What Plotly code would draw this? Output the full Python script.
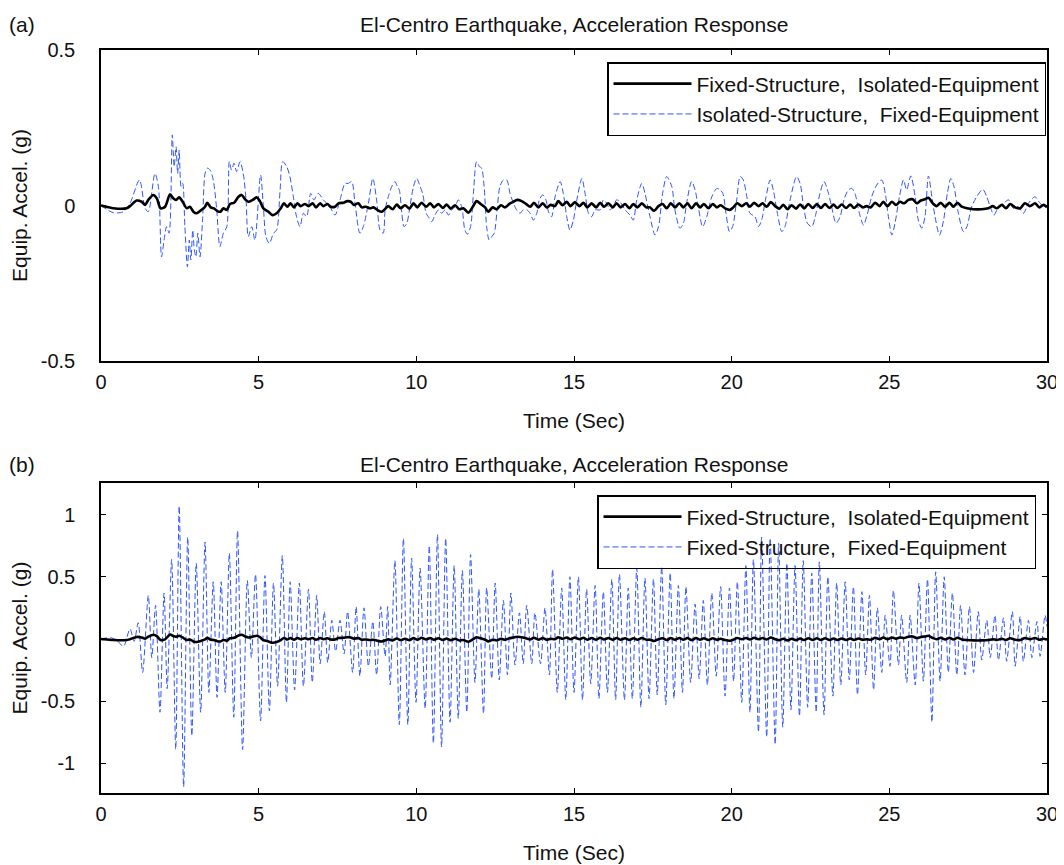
import plotly.graph_objects as go

# ---------------- data ----------------
# Fixed-Structure, Isolated-Equipment (same series in both panels)
black_t = [0.00, 0.07, 0.39, 0.81, 0.92, 1.13, 1.29, 1.40, 1.50, 1.66, 1.77, 1.89, 2.03, 2.19, 2.29, 2.38,
           2.48, 2.59, 2.72, 2.82, 2.93, 3.03, 3.19, 3.30, 3.37, 3.48, 3.58, 3.69, 3.79, 3.88, 3.99, 4.09,
           4.22, 4.36, 4.46, 4.57, 4.67, 4.81, 4.94, 5.04, 5.15, 5.31, 5.44, 5.57, 5.70, 5.80, 5.91, 6.01,
           6.12, 6.23, 6.33, 6.47, 6.58, 6.71, 6.82, 6.95, 7.05, 7.18, 7.28, 7.42, 7.53, 7.69, 7.81, 7.92,
           8.02, 8.16, 8.27, 8.40, 8.53, 8.64, 8.76, 8.90, 9.06, 9.11, 9.25, 9.38, 9.50, 9.64, 9.78, 9.91,
           10.03, 10.17, 10.31, 10.44, 10.56, 10.70, 10.84, 10.96, 11.09, 11.23, 11.36, 11.49, 11.65, 11.79,
           11.91, 12.04, 12.18, 12.28, 12.42, 12.55, 12.68, 12.81, 12.95, 13.08, 13.20, 13.34, 13.48, 13.61,
           13.73, 13.87, 14.01, 14.13, 14.26, 14.40, 14.50, 14.64, 14.77, 14.89, 15.03, 15.17, 15.30, 15.42,
           15.56, 15.70, 15.83, 15.95, 16.09, 16.23, 16.35, 16.48, 16.62, 16.76, 16.88, 17.01, 17.15, 17.29,
           17.41, 17.54, 17.68, 17.81, 17.94, 18.07, 18.20, 18.34, 18.47, 18.60, 18.73, 18.87, 19.00, 19.12,
           19.26, 19.40, 19.53, 19.65, 19.79, 19.95, 20.05, 20.18, 20.32, 20.46, 20.58, 20.71, 20.85, 20.98,
           21.11, 21.24, 21.38, 21.51, 21.64, 21.77, 21.90, 22.04, 22.17, 22.30, 22.43, 22.57, 22.70, 22.83,
           22.96, 23.10, 23.23, 23.35, 23.49, 23.63, 23.76, 23.88, 24.02, 24.16, 24.28, 24.41, 24.55, 24.69,
           24.81, 24.94, 25.08, 25.21, 25.34, 25.47, 25.60, 25.74, 25.87, 26.00, 26.13, 26.24, 26.38, 26.50,
           26.63, 26.77, 26.91, 27.03, 27.16, 27.30, 27.46, 27.67, 27.93, 28.14, 28.28, 28.41, 28.57, 28.70,
           28.83, 28.99, 29.15, 29.30, 29.46, 29.62, 29.76, 29.89, 30.00]
black_v = [0.000, -0.002, -0.009, -0.009, -0.002, 0.016, 0.012, 0.002, 0.018, 0.034, 0.023, -0.009, -0.004, 0.036, 0.023, 0.018,
           0.026, 0.012, -0.009, -0.004, -0.020, -0.025, -0.014, -0.004, 0.009, -0.006, -0.009, -0.018, -0.020, -0.009, -0.014, 0.005,
           0.009, 0.028, 0.034, 0.020, 0.012, 0.018, 0.026, 0.014, -0.009, -0.020, -0.031, -0.025, -0.009, 0.007, -0.004, 0.007,
           -0.006, 0.007, -0.002, 0.005, -0.002, 0.007, -0.006, 0.007, -0.002, 0.005, -0.004, -0.004, 0.007, 0.009, 0.014, 0.012,
           0.002, 0.007, -0.006, -0.004, -0.009, -0.006, -0.014, -0.020, -0.006, -0.002, -0.012, 0.003, -0.009, 0.001, -0.010, 0.007,
           -0.006, 0.009, -0.004, 0.007, -0.006, 0.005, -0.008, 0.003, -0.010, 0.001, -0.012, -0.009, -0.023, -0.004,
           0.014, 0.005, -0.006, -0.020, -0.006, -0.012, 0.001, -0.006, 0.005, 0.012, 0.018, 0.014, 0.005, -0.004,
           0.009, -0.006, 0.007, -0.006, 0.002, -0.002, 0.014, 0.001, 0.012, -0.002, 0.011, -0.002, 0.009, -0.006,
           0.007, -0.006, 0.009, -0.004, 0.007, -0.006, 0.007, -0.006, 0.005, -0.009, 0.005, -0.006, 0.007, -0.006,
           -0.006, -0.017, -0.002, 0.005, -0.009, 0.007, -0.006, 0.007, -0.006, 0.007, -0.009, 0.007, -0.006, 0.005,
           -0.009, 0.005, -0.006, 0.001, -0.009, -0.014, -0.006, 0.007, -0.002, 0.007, -0.004, 0.009, -0.002, 0.007,
           -0.004, 0.011, -0.002, -0.010, 0.002, -0.012, 0.001, -0.010, 0.003, -0.009, 0.005, -0.008, 0.005, -0.008,
           0.005, -0.008, 0.003, -0.008, 0.003, -0.008, 0.003, -0.008, 0.003, -0.006, -0.002, -0.006, 0.009, -0.002,
           0.012, -0.002, 0.012, 0.002, 0.012, 0.007, 0.018, 0.020, 0.007, 0.016, 0.020, 0.025, 0.007, -0.002,
           0.009, -0.004, 0.009, -0.004, 0.009, -0.004, -0.009, -0.012, -0.012, -0.009, -0.002, -0.009, 0.002, -0.009,
           0.005, -0.006, -0.009, 0.007, -0.002, 0.007, -0.006, 0.002, -0.006]

# Isolated-Structure, Fixed-Equipment (panel a)
blueA_t = [0.00, 0.39, 0.71, 0.92, 1.22, 1.40, 1.50, 1.71, 1.82, 1.92, 2.00, 2.08, 2.16, 2.26, 2.32, 2.38,
           2.43, 2.48, 2.54, 2.59, 2.66, 2.74, 2.80, 2.85, 2.91, 2.96, 3.01, 3.07, 3.14, 3.22, 3.30, 3.37,
           3.46, 3.56, 3.67, 3.77, 3.88, 3.99, 4.07, 4.14, 4.22, 4.30, 4.41, 4.51, 4.60, 4.67, 4.78, 4.88,
           5.06, 5.15, 5.23, 5.34, 5.47, 5.57, 5.68, 5.76, 5.89, 5.99, 6.10, 6.20, 6.31, 6.42, 6.52, 6.65,
           6.75, 6.89, 7.05, 7.26, 7.42, 7.58, 7.74, 7.84, 7.95, 8.05, 8.21, 8.32, 8.48, 8.62, 8.74, 8.85,
           8.95, 9.01, 9.11, 9.22, 9.32, 9.40, 9.46, 9.54, 9.61, 9.70, 9.78, 9.91, 10.01, 10.12, 10.20, 10.31,
           10.38, 10.49, 10.59, 10.70, 10.80, 10.91, 11.02, 11.12, 11.23, 11.33, 11.44, 11.54, 11.62, 11.72,
           11.81, 11.91, 12.00, 12.07, 12.15, 12.23, 12.31, 12.39, 12.47, 12.57, 12.65, 12.76, 12.87, 12.97,
           13.08, 13.18, 13.29, 13.39, 13.50, 13.61, 13.71, 13.82, 13.90, 14.01, 14.11, 14.19, 14.29, 14.40,
           14.56, 14.66, 14.77, 14.87, 14.98, 15.09, 15.25, 15.35, 15.46, 15.56, 15.67, 15.83, 15.93, 16.04,
           16.14, 16.25, 16.35, 16.46, 16.62, 16.78, 16.88, 16.99, 17.15, 17.25, 17.41, 17.57, 17.68, 17.81,
           17.94, 18.10, 18.20, 18.36, 18.47, 18.57, 18.73, 18.84, 18.94, 19.08, 19.21, 19.37, 19.53, 19.63,
           19.72, 19.82, 19.93, 20.03, 20.16, 20.27, 20.37, 20.48, 20.58, 20.74, 20.85, 20.95, 21.09, 21.22,
           21.32, 21.45, 21.59, 21.69, 21.83, 22.06, 22.17, 22.28, 22.40, 22.54, 22.65, 22.80, 22.93, 23.07,
           23.17, 23.31, 23.44, 23.56, 23.70, 23.81, 23.91, 24.05, 24.18, 24.28, 24.44, 24.60, 24.76, 24.87,
           24.97, 25.08, 25.18, 25.32, 25.45, 25.55, 25.68, 25.82, 25.92, 26.03, 26.13, 26.24, 26.35, 26.45,
           26.59, 26.72, 26.84, 26.95, 27.05, 27.19, 27.35, 27.46, 27.61, 27.77, 27.96, 28.09, 28.20, 28.32,
           28.46, 28.62, 28.78, 28.93, 29.09, 29.25, 29.41, 29.62, 29.78, 29.94, 30.00]
blueA_v = [0.000, -0.023, -0.020, 0.007, 0.082, -0.009, -0.020, 0.103, 0.061, -0.165, -0.111, -0.068, -0.089, 0.227, 0.125, 0.189,
           0.103, 0.178, 0.061, 0.071, -0.068, -0.197, -0.111, -0.175, -0.079, -0.143, -0.165, -0.089, -0.165, -0.047, 0.103, 0.120,
           0.114, 0.082, -0.014, -0.132, -0.089, -0.068, 0.141, 0.114, 0.136, 0.109, 0.141, 0.103, 0.018, -0.100, -0.068, -0.111,
           0.098, -0.004, -0.100, -0.122, -0.089, -0.079, 0.050, 0.141, 0.125, 0.093, 0.028, -0.036, -0.068, -0.025, -0.036, 0.039,
           0.018, 0.039, 0.018, -0.004, -0.031, 0.018, 0.071, 0.071, 0.077, 0.012, -0.089, -0.068, 0.007, 0.087, 0.018, -0.079,
           -0.089, -0.014, 0.028, 0.061, 0.077, 0.061, 0.050, -0.025, -0.068, -0.057, -0.014, 0.061, 0.087, 0.061, 0.039, -0.025,
           -0.036, -0.052, -0.031, -0.014, -0.025, -0.014, -0.031, -0.014, -0.004, 0.018, -0.004, -0.079, -0.092, -0.068,
           0.039, 0.141, 0.125, 0.120, 0.061, -0.068, -0.111, -0.100, -0.089, -0.004, 0.061, 0.082, 0.082, 0.039,
           0.007, -0.014, -0.025, -0.014, -0.014, -0.025, -0.047, -0.025, 0.018, 0.034, 0.018, -0.020, -0.036, 0.028,
           0.077, 0.039, -0.036, -0.079, -0.047, 0.018, 0.087, 0.039, -0.025, -0.036, -0.014, -0.014, 0.018, 0.007,
           -0.014, -0.004, 0.018, 0.012, -0.014, -0.031, -0.047, 0.018, 0.071, 0.039, -0.036, -0.095, -0.068, 0.039,
           0.093, 0.061, -0.014, -0.073, -0.057, 0.007, 0.077, 0.050, -0.004, -0.068, -0.036, 0.028, 0.055, 0.050,
           0.039, -0.025, -0.084, -0.068, 0.018, 0.093, 0.082, 0.028, -0.025, -0.036, -0.068, -0.047, 0.028, 0.082,
           0.050, -0.025, -0.084, -0.068, 0.007, 0.093, 0.071, -0.004, -0.057, -0.068, -0.036, 0.039, 0.077, 0.039,
           -0.004, -0.057, -0.036, 0.018, 0.050, 0.055, 0.039, -0.025, -0.063, -0.036, 0.028, 0.066, 0.082, 0.039,
           -0.036, -0.095, -0.057, 0.028, 0.082, 0.050, 0.095, 0.028, -0.047, -0.073, -0.036, 0.095, 0.028, -0.036,
           -0.095, -0.047, 0.039, 0.087, 0.061, -0.025, -0.084, -0.068, -0.004, 0.028, 0.052, 0.028, -0.004, -0.031,
           -0.004, 0.007, 0.018, -0.009, -0.004, -0.025, 0.007, 0.028, 0.007, -0.004, 0.000]

# Fixed-Structure, Fixed-Equipment (panel b)
blueB_t = [0.00, 0.30, 0.50, 0.71, 0.92, 1.05, 1.18, 1.32, 1.50, 1.61, 1.73, 1.87, 2.00, 2.10, 2.24, 2.37,
           2.48, 2.62, 2.75, 2.88, 3.02, 3.16, 3.30, 3.42, 3.56, 3.68, 3.81, 3.94, 4.07, 4.21, 4.33, 4.49,
           4.64, 4.77, 4.90, 5.06, 5.20, 5.34, 5.47, 5.60, 5.75, 5.88, 6.00, 6.14, 6.29, 6.42, 6.58, 6.70,
           6.84, 6.95, 7.08, 7.19, 7.32, 7.44, 7.58, 7.71, 7.82, 7.98, 8.09, 8.21, 8.34, 8.48, 8.62, 8.74,
           8.87, 9.01, 9.09, 9.17, 9.32, 9.46, 9.59, 9.73, 9.85, 9.99, 10.12, 10.28, 10.41, 10.54, 10.67, 10.80,
           10.93, 11.07, 11.20, 11.33, 11.46, 11.60, 11.72, 11.86, 11.98, 12.13, 12.23, 12.39, 12.50, 12.63,
           12.76, 12.89, 13.00, 13.13, 13.27, 13.39, 13.50, 13.66, 13.76, 13.94, 14.08, 14.22, 14.32, 14.47,
           14.61, 14.74, 14.87, 15.00, 15.14, 15.27, 15.40, 15.53, 15.67, 15.79, 15.93, 16.06, 16.20, 16.32,
           16.44, 16.60, 16.72, 16.85, 16.99, 17.12, 17.25, 17.38, 17.52, 17.64, 17.78, 17.91, 18.05, 18.17,
           18.31, 18.44, 18.55, 18.70, 18.84, 18.97, 19.10, 19.23, 19.37, 19.51, 19.65, 19.79, 19.93, 20.06,
           20.18, 20.32, 20.45, 20.58, 20.69, 20.85, 20.95, 21.11, 21.22, 21.38, 21.49, 21.62, 21.75, 21.88,
           22.01, 22.15, 22.27, 22.41, 22.54, 22.68, 22.78, 22.93, 23.05, 23.21, 23.33, 23.46, 23.60, 23.73,
           23.86, 23.99, 24.13, 24.25, 24.37, 24.50, 24.62, 24.76, 24.87, 25.02, 25.13, 25.29, 25.39, 25.55,
           25.66, 25.82, 25.94, 26.08, 26.21, 26.35, 26.47, 26.61, 26.74, 26.87, 27.00, 27.14, 27.26, 27.40,
           27.54, 27.67, 27.82, 27.93, 28.09, 28.20, 28.35, 28.46, 28.62, 28.72, 28.90, 28.99, 29.15, 29.25,
           29.41, 29.52, 29.68, 29.78, 29.94, 30.00]
blueB_v = [0.00, 0.01, -0.01, -0.06, 0.08, -0.02, 0.13, -0.27, 0.35, -0.15, 0.27, -0.59, 0.37, -0.40, 0.64, -0.89,
           1.07, -1.19, 0.82, -0.78, 0.61, -0.59, 0.78, -0.43, 0.46, -0.47, 0.46, -0.43, 0.69, -0.63, 0.87, -0.89,
           0.47, -0.15, 0.52, -0.66, 0.51, -0.58, 0.45, -0.38, 0.67, -0.51, 0.46, -0.41, 0.45, -0.38, 0.40, -0.35,
           0.35, -0.20, 0.22, -0.19, 0.15, -0.10, 0.15, -0.12, 0.22, -0.27, 0.26, -0.30, 0.25, -0.22, 0.14, -0.29,
           0.26, -0.14, 0.26, -0.37, 0.63, -0.69, 0.81, -0.69, 0.65, -0.51, 0.57, -0.56, 0.75, -0.84, 0.84, -0.87,
           0.81, -0.67, 0.59, -0.64, 0.55, -0.59, 0.68, -0.35, 0.40, -0.60, 0.41, -0.32, 0.45, -0.33,
           0.31, -0.29, 0.37, -0.21, 0.21, -0.20, 0.27, -0.20, 0.21, -0.20, 0.25, -0.29, 0.56, -0.43,
           0.41, -0.49, 0.50, -0.43, 0.50, -0.49, 0.40, -0.36, 0.43, -0.48, 0.38, -0.43, 0.48, -0.49,
           0.52, -0.49, 0.41, -0.48, 0.57, -0.55, 0.49, -0.48, 0.48, -0.45, 0.58, -0.53, 0.53, -0.48,
           0.43, -0.43, 0.42, -0.35, 0.28, -0.32, 0.31, -0.37, 0.37, -0.30, 0.42, -0.46, 0.41, -0.34,
           0.46, -0.51, 0.59, -0.59, 0.64, -0.75, 0.82, -0.79, 0.81, -0.85, 0.77, -0.71, 0.61, -0.57,
           0.59, -0.62, 0.63, -0.55, 0.53, -0.59, 0.62, -0.61, 0.50, -0.46, 0.45, -0.37, 0.46, -0.33,
           0.42, -0.45, 0.38, -0.29, 0.35, -0.41, 0.25, -0.27, 0.19, -0.22, 0.39, -0.21, 0.19, -0.35,
           0.19, -0.37, 0.45, -0.34, 0.48, -0.67, 0.54, -0.34, 0.50, -0.27, 0.37, -0.29, 0.27, -0.29,
           0.26, -0.27, 0.22, -0.17, 0.15, -0.15, 0.19, -0.17, 0.17, -0.18, 0.22, -0.22, 0.18, -0.18,
           0.15, -0.15, 0.14, -0.14, 0.19, 0.10]

x_ticks = [0, 5, 10, 15, 20, 25, 30]
ya_ticks = [-0.5, 0, 0.5]
ya_text = ["-0.5", "0", "0.5"]
yb_ticks = [-1, -0.5, 0, 0.5, 1]
yb_text = ["-1", "-0.5", "0", "0.5", "1"]

title_txt = "El-Centro Earthquake, Acceleration Response"
name_black = "Fixed-Structure,  Isolated-Equipment"
name_blueA = "Isolated-Structure,  Fixed-Equipment"
name_blueB = "Fixed-Structure,  Fixed-Equipment"

# ---------------- figure ----------------
FONT = "Liberation Sans, Arial, Helvetica, sans-serif"
BLUE = "#2f55ff"
TXT = "#111111"
FS_TICK = 20
FS_TEXT = 21
FS_LEG = 21

# The page body has an 8px margin, so the figure is drawn 8px in from the window corner.
OFF = 8
W, H = 1064 - OFF, 865 - OFF
# plot-area geometry in window pixels
L, R, T, B = 101, 1047, 50, 793
PW, PH = R - L, B - T


def px(xp):
    return (xp - L) / PW


def py(yp):
    return (B - yp) / PH


fig = go.Figure()

fig.add_trace(go.Scatter(x=blueA_t, y=blueA_v, mode="lines", name=name_blueA,
                         line=dict(color=BLUE, width=1, dash="6px,3px", shape="spline", smoothing=0.8),
                         xaxis="x", yaxis="y", legend="legend", legendrank=2))
fig.add_trace(go.Scatter(x=black_t, y=black_v, mode="lines", name=name_black,
                         line=dict(color="black", width=2.6, shape="spline", smoothing=0.8),
                         xaxis="x", yaxis="y", legend="legend", legendrank=1))
fig.add_trace(go.Scatter(x=blueB_t, y=blueB_v, mode="lines", name=name_blueB,
                         line=dict(color=BLUE, width=1, dash="6px,3px", shape="spline", smoothing=0.8),
                         xaxis="x2", yaxis="y2", legend="legend2", legendrank=2))
fig.add_trace(go.Scatter(x=black_t, y=black_v, mode="lines", name=name_black,
                         line=dict(color="black", width=2.6, shape="spline", smoothing=0.8),
                         xaxis="x2", yaxis="y2", legend="legend2", legendrank=1))

axis_common = dict(showline=True, linecolor="black", linewidth=1.5, mirror="ticks",
                   ticks="inside", ticklen=5, tickwidth=1, tickcolor="black",
                   showgrid=False, zeroline=False, automargin=False,
                   tickfont=dict(family=FONT, size=FS_TICK, color=TXT))

top_dom = [py(361), 1.0]
bot_dom = [0.0, py(483)]

xt = dict(text="Time (Sec)", font=dict(family=FONT, size=FS_TEXT, color=TXT), standoff=22)
yt = dict(text="Equip. Accel. (g)", font=dict(family=FONT, size=FS_TEXT, color=TXT), standoff=10)

leg_common = dict(bgcolor="rgba(255,255,255,0)", bordercolor="black", borderwidth=1.5, itemwidth=78,
                  font=dict(family=FONT, size=FS_LEG, color=TXT), traceorder="normal",
                  xanchor="right", yanchor="top")

fig.update_layout(
    width=W, height=H,
    margin=dict(l=L - OFF, r=W - (R - OFF), t=T - OFF, b=H - (B - OFF)),
    paper_bgcolor="white", plot_bgcolor="white",
    font=dict(family=FONT, size=FS_TEXT, color=TXT),
    xaxis=dict(domain=[0, 1], anchor="y", range=[0, 30], tickvals=x_ticks, title=xt,
               ticklabelstandoff=2, **axis_common),
    yaxis=dict(domain=top_dom, anchor="x", range=[-0.5, 0.5], tickvals=ya_ticks, ticktext=ya_text,
               title=yt, ticklabelstandoff=20, **axis_common),
    xaxis2=dict(domain=[0, 1], anchor="y2", range=[0, 30], tickvals=x_ticks, title=xt,
                ticklabelstandoff=2, **axis_common),
    yaxis2=dict(domain=bot_dom, anchor="x2", range=[-1.24, 1.255], tickvals=yb_ticks, ticktext=yb_text,
                title=yt, ticklabelstandoff=20, **axis_common),
    legend=dict(x=px(1046), y=py(62), **leg_common),
    legend2=dict(x=px(1036), y=py(495), **leg_common),
    showlegend=True,
)

ann_font = dict(family=FONT, size=FS_TEXT, color=TXT)
for ytop in (11, 451):
    fig.add_annotation(text=title_txt, x=px(574), y=py(ytop), xref="paper", yref="paper",
                       showarrow=False, font=ann_font, xanchor="center", yanchor="top")
fig.add_annotation(text="(a)", x=px(7), y=py(11), xref="paper", yref="paper",
                   showarrow=False, font=ann_font, xanchor="left", yanchor="top")
fig.add_annotation(text="(b)", x=px(7), y=py(451), xref="paper", yref="paper",
                   showarrow=False, font=ann_font, xanchor="left", yanchor="top")

fig.write_html("out.html")
